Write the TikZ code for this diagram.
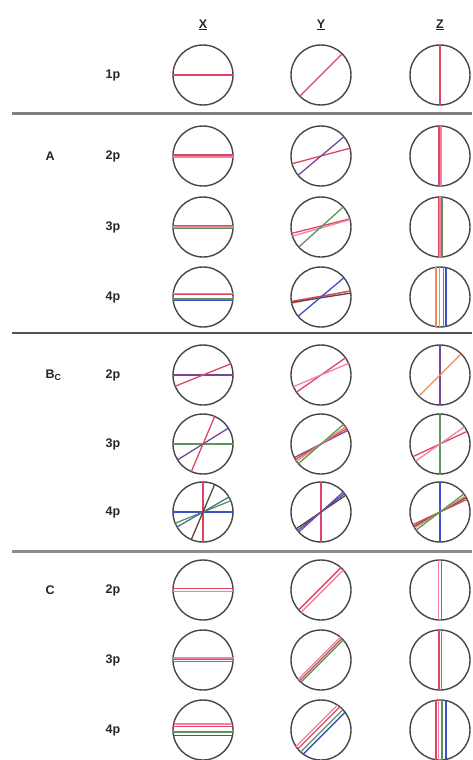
\documentclass[tikz,border=0pt]{standalone}
\usepackage{fontspec}
\setmainfont{Liberation Sans}
\definecolor{rojo}{RGB}{220,70,100}
\definecolor{rosa}{RGB}{240,130,160}
\definecolor{verde}{RGB}{90,150,90}
\definecolor{azul}{RGB}{60,80,200}
\definecolor{morado}{RGB}{120,70,150}
\definecolor{naranja}{RGB}{235,140,90}
\definecolor{oscuro}{RGB}{90,70,60}
\definecolor{borde}{RGB}{70,70,70}
% cuerda: [color]{disco}{angulo}{desplazamiento}
\newcommand{\cuerda}[4][rojo]{\draw[linea,#1] ([shift={(#3+90:#4)}]#2.center) ++(#3:{sqrt(900-(#4)*(#4))}) -- ++(#3+180:{2*sqrt(900-(#4)*(#4))});}
\begin{document}
\begin{tikzpicture}[x=1pt, y=1pt,
  disco/.style={circle, draw=borde, line width=1.4pt, minimum size=60pt, inner sep=0pt},
  etiqueta/.style={font=\bfseries\fontsize{12.5}{15}\selectfont, text=black!85},
  linea/.style={line width=1.3pt}]
\useasboundingbox (0,0) rectangle (472,-760);
% Encabezados
\node [etiqueta] (hX) at (203,-25) {\underline{X}};
\node [etiqueta] (hY) at (321,-25) {\underline{Y}};
\node [etiqueta] (hZ) at (440,-25) {\underline{Z}};
% Filas
\node [etiqueta] (f1)   at (113,-75)  {1p};
\node [etiqueta, anchor=west] (gA)  at (42,-156) {A};
\node [etiqueta] (fA2)  at (113,-156) {2p};
\node [etiqueta] (fA3)  at (113,-227) {3p};
\node [etiqueta] (fA4)  at (113,-297) {4p};
\node [etiqueta, anchor=west] (gB)  at (42,-375) {B\textsubscript{C}};
\node [etiqueta] (fB2)  at (113,-375) {2p};
\node [etiqueta] (fB3)  at (113,-444) {3p};
\node [etiqueta] (fB4)  at (113,-512) {4p};
\node [etiqueta, anchor=west] (gC)  at (42,-590) {C};
\node [etiqueta] (fC2)  at (113,-590) {2p};
\node [etiqueta] (fC3)  at (113,-660) {3p};
\node [etiqueta] (fC4)  at (113,-730) {4p};
% Separadores
\draw [line width=3pt, black!50] (12,-113) -- (472,-113);
\draw [line width=1.5pt, black!68] (12,-333) -- (472,-333);
\draw [line width=3pt, black!45] (12,-551) -- (472,-551);
% Discos
\node [disco] (X1)   at (203,-75)  {};
\node [disco] (Y1)   at (321,-75)  {};
\node [disco] (Z1)   at (440,-75)  {};
\node [disco] (XA2)  at (203,-156) {};
\node [disco] (YA2)  at (321,-156) {};
\node [disco] (ZA2)  at (440,-156) {};
\node [disco] (XA3)  at (203,-227) {};
\node [disco] (YA3)  at (321,-227) {};
\node [disco] (ZA3)  at (440,-227) {};
\node [disco] (XA4)  at (203,-297) {};
\node [disco] (YA4)  at (321,-297) {};
\node [disco] (ZA4)  at (440,-297) {};
\node [disco] (XB2)  at (203,-375) {};
\node [disco] (YB2)  at (321,-375) {};
\node [disco] (ZB2)  at (440,-375) {};
\node [disco] (XB3)  at (203,-444) {};
\node [disco] (YB3)  at (321,-444) {};
\node [disco] (ZB3)  at (440,-444) {};
\node [disco] (XB4)  at (203,-512) {};
\node [disco] (YB4)  at (321,-512) {};
\node [disco] (ZB4)  at (440,-512) {};
\node [disco] (XC2)  at (203,-590) {};
\node [disco] (YC2)  at (321,-590) {};
\node [disco] (ZC2)  at (440,-590) {};
\node [disco] (XC3)  at (203,-660) {};
\node [disco] (YC3)  at (321,-660) {};
\node [disco] (ZC3)  at (440,-660) {};
\node [disco] (XC4)  at (203,-730) {};
\node [disco] (YC4)  at (321,-730) {};
\node [disco] (ZC4)  at (440,-730) {};
% ---
% 1p
% ---
\cuerda{X1}{0}{0}
\cuerda{Y1}{45}{0}
\cuerda{Z1}{90}{0}
% ---
% A
% ---
\cuerda{XA2}{0}{1.1}
\cuerda[rosa]{XA2}{0}{-1.1}
\cuerda{YA2}{15}{0}
\cuerda[morado]{YA2}{40}{0}
\cuerda{ZA2}{90}{1.1}
\cuerda[rosa]{ZA2}{90}{-1.1}

\cuerda{XA3}{0}{1.2}
\cuerda[rosa]{XA3}{0}{0}
\cuerda[verde]{XA3}{0}{-1.8}
\cuerda{YA3}{14}{0.9}
\cuerda[rosa]{YA3}{16}{-0.9}
\cuerda[verde]{YA3}{42}{0}
\cuerda{ZA3}{90}{1.2}
\cuerda[rosa]{ZA3}{90}{0}
\cuerda[verde]{ZA3}{90}{-2}

\cuerda[naranja]{XA4}{0}{3.5}
\cuerda{XA4}{0}{2.2}
\cuerda[verde]{XA4}{0}{-2}
\cuerda[azul]{XA4}{0}{-3.3}
\cuerda[naranja]{YA4}{12}{0}
\cuerda{YA4}{10}{0.8}
\cuerda[oscuro]{YA4}{9}{-0.8}
\cuerda[azul]{YA4}{40}{0}
\cuerda[naranja]{ZA4}{90}{4}
\cuerda[rosa]{ZA4}{90}{0.7}
\cuerda[verde]{ZA4}{90}{-3.3}
\cuerda[azul]{ZA4}{90}{-6}
% ---
% Bc
% ---
\cuerda[morado]{XB2}{0}{0}
\cuerda{XB2}{22}{0}
\cuerda{YB2}{35}{0}
\cuerda[rosa]{YB2}{23}{0}
\cuerda[morado]{ZB2}{90}{0}
\cuerda[naranja]{ZB2}{45}{0}

\cuerda[verde]{XB3}{0}{0}
\cuerda[morado]{XB3}{32}{0}
\cuerda{XB3}{67}{0}
\cuerda[morado]{YB3}{27}{0}
\cuerda{YB3}{31}{0}
\cuerda[naranja]{YB3}{35}{0}
\cuerda[verde]{YB3}{41}{0}
\cuerda[verde]{ZB3}{90}{0}
\cuerda{ZB3}{25}{0}
\cuerda[rosa]{ZB3}{35}{0}

\cuerda{XB4}{90}{0}
\cuerda[azul]{XB4}{0}{0}
\cuerda[verde]{XB4}{22}{0}
\cuerda[azul!50!verde]{XB4}{30}{0}
\cuerda[oscuro]{XB4}{67}{0}
\cuerda{YB4}{90}{0}
\cuerda[oscuro]{YB4}{34}{0}
\cuerda[azul]{YB4}{38}{0}
\cuerda[morado]{YB4}{42}{0}
\cuerda[azul]{ZB4}{90}{0}
\cuerda{ZB4}{25}{0}
\cuerda[oscuro]{ZB4}{29}{0}
\cuerda[naranja]{ZB4}{32}{0}
\cuerda[verde]{ZB4}{37}{0}
% ---
% C
% ---
\cuerda{XC2}{0}{1.7}
\cuerda[rosa]{XC2}{0}{-1.7}
\cuerda{YC2}{45}{1.7}
\cuerda[rosa]{YC2}{45}{-1.7}
\cuerda[rosa]{ZC2}{90}{1.5}
\cuerda{ZC2}{90}{-1.5}

\cuerda[rosa]{XC3}{0}{2}
\cuerda{XC3}{0}{0.7}
\cuerda[verde]{XC3}{0}{-1.2}
\cuerda[rosa]{YC3}{45}{2.5}
\cuerda{YC3}{45}{0.5}
\cuerda[verde]{YC3}{45}{-1.5}
\cuerda{ZC3}{90}{1}
\cuerda[verde]{ZC3}{90}{-1.5}

\cuerda[rosa]{XC4}{0}{6}
\cuerda{XC4}{0}{3.5}
\cuerda[verde]{XC4}{0}{-2}
\cuerda[azul]{XC4}{0}{-5.5}
\cuerda[rosa]{YC4}{45}{6}
\cuerda{YC4}{45}{3}
\cuerda[verde]{YC4}{45}{-1}
\cuerda[azul]{YC4}{45}{-4.5}
\cuerda{ZC4}{90}{4}
\cuerda[rosa]{ZC4}{90}{1.5}
\cuerda[verde]{ZC4}{90}{-2}
\cuerda[azul]{ZC4}{90}{-6}
\end{tikzpicture}
\end{document}
